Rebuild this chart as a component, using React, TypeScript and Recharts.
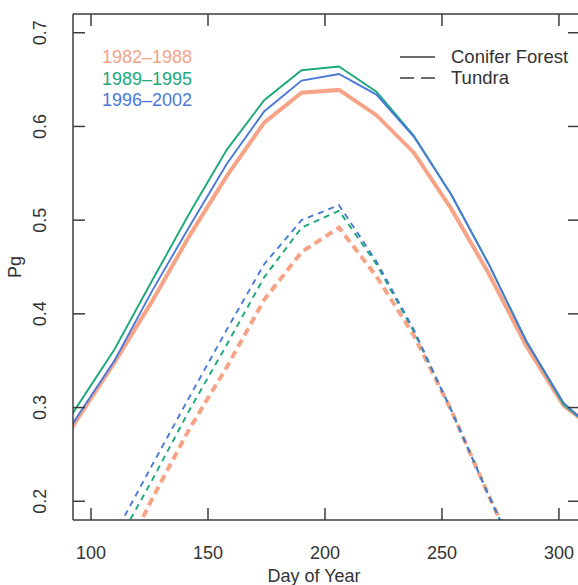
import React from 'react';
import { LineChart, Line, XAxis, YAxis } from 'recharts';

// 16-day composite days (first and last points run past the plot edges and get clipped)
const days = [78, 94, 110, 126, 142, 158, 174, 190, 206, 222, 238, 254, 270, 286, 302, 318];

// Conifer forest (solid)
const conifer8288 = [0.222, 0.287, 0.348, 0.413, 0.483, 0.547, 0.604, 0.636, 0.639, 0.612, 0.572, 0.512, 0.443, 0.366, 0.302, 0.272];
const conifer8995 = [0.238, 0.301, 0.362, 0.435, 0.507, 0.575, 0.628, 0.66, 0.664, 0.637, 0.59, 0.527, 0.453, 0.371, 0.303, 0.27];
const conifer9602 = [0.224, 0.29, 0.35, 0.424, 0.493, 0.56, 0.616, 0.649, 0.656, 0.634, 0.589, 0.527, 0.453, 0.371, 0.305, 0.269];

// Tundra (dashed)
const tundra8288 = [null, null, 0.121, 0.202, 0.277, 0.343, 0.415, 0.466, 0.492, 0.44, 0.377, 0.297, 0.206, 0.12, null, null];
const tundra8995 = [null, null, 0.15, 0.222, 0.297, 0.367, 0.439, 0.492, 0.51, 0.453, 0.381, 0.297, 0.206, 0.12, null, null];
const tundra9602 = [null, null, 0.164, 0.238, 0.311, 0.383, 0.453, 0.5, 0.516, 0.456, 0.383, 0.297, 0.206, 0.12, null, null];

const periods = ['1982–1988', '1989–1995', '1996–2002'];
const biomes = ['Conifer Forest', 'Tundra'];
const xTicks = [100, 150, 200, 250, 300];
const yTicks = [0.2, 0.3, 0.4, 0.5, 0.6, 0.7];

const data = days.map((d, i) => ({
  day: d,
  c82: conifer8288[i], c89: conifer8995[i], c96: conifer9602[i],
  t82: tundra8288[i], t89: tundra8995[i], t96: tundra9602[i],
}));

const FONT = '"Liberation Sans", Arial, Helvetica, sans-serif';
const AXIS = '#3c3c3c';
const TXT = '#333';
const ORANGE = '#F6A387';
const GREEN = '#1BA97B';
const BLUE = '#4A79D8';
const TICK = 12;
const FS = 18;

function BottomTick(props: any) {
  const { x, y, payload } = props;
  return (
    <g>
      <line x1={x} y1={y} x2={x} y2={y - TICK} stroke={AXIS} strokeWidth={1.5} />
      <text x={x} y={y + 33} textAnchor="middle" dominantBaseline="central" fontSize={FS} fill={TXT} fontFamily={FONT}>
        {payload.value}
      </text>
    </g>
  );
}

function TopTick(props: any) {
  const { x, y } = props;
  return <line x1={x} y1={y} x2={x} y2={y + TICK} stroke={AXIS} strokeWidth={1.5} />;
}

function LeftTick(props: any) {
  const { x, y, payload } = props;
  const tx = 40;
  return (
    <g>
      <line x1={x} y1={y} x2={x + TICK} y2={y} stroke={AXIS} strokeWidth={1.5} />
      <text x={tx} y={y} transform={`rotate(-90 ${tx} ${y})`} textAnchor="middle" dominantBaseline="central"
        fontSize={FS} fill={TXT} fontFamily={FONT}>
        {Number(payload.value).toFixed(1)}
      </text>
    </g>
  );
}

function RightTick(props: any) {
  const { x, y } = props;
  return <line x1={x} y1={y} x2={x - TICK} y2={y} stroke={AXIS} strokeWidth={1.5} />;
}

const axisLine = { stroke: AXIS, strokeWidth: 1.5 };
const xDomain: [number, number] = [92.3, 309];
const yDomain: [number, number] = [0.18, 0.72];

export default function App() {
  const legendColors = [ORANGE, GREEN, BLUE];
  return (
    <div style={{ position: 'absolute', left: 0, top: 0, width: 578, height: 585, overflow: 'hidden', background: '#fff', fontFamily: FONT }}>
      <LineChart width={590} height={585} data={data} margin={{ top: 0, right: 0, bottom: 0, left: 0 }}>
        <XAxis xAxisId="b" dataKey="day" type="number" domain={xDomain} allowDataOverflow ticks={xTicks}
          height={65} tickSize={0} tickMargin={0} tickLine={false} axisLine={axisLine} tick={<BottomTick />} interval={0} />
        <XAxis xAxisId="t" orientation="top" dataKey="day" type="number" domain={xDomain} allowDataOverflow ticks={xTicks}
          height={14} tickSize={0} tickMargin={0} tickLine={false} axisLine={axisLine} tick={<TopTick />} interval={0} />
        <YAxis yAxisId="l" type="number" domain={yDomain} allowDataOverflow ticks={yTicks}
          width={73} tickSize={0} tickMargin={0} tickLine={false} axisLine={axisLine} tick={<LeftTick />} interval={0} />
        <YAxis yAxisId="r" orientation="right" type="number" domain={yDomain} allowDataOverflow ticks={yTicks}
          width={10} tickSize={0} tickMargin={0} tickLine={false} axisLine={axisLine} tick={<RightTick />} interval={0} />

        <Line xAxisId="b" yAxisId="l" dataKey="c82" stroke={ORANGE} strokeWidth={4} dot={false} activeDot={false} isAnimationActive={false} />
        <Line xAxisId="b" yAxisId="l" dataKey="t82" stroke={ORANGE} strokeWidth={4} strokeDasharray="8 5" dot={false} activeDot={false} isAnimationActive={false} />
        <Line xAxisId="b" yAxisId="l" dataKey="c89" stroke={GREEN} strokeWidth={1.9} dot={false} activeDot={false} isAnimationActive={false} />
        <Line xAxisId="b" yAxisId="l" dataKey="t89" stroke={GREEN} strokeWidth={1.9} strokeDasharray="6 5" dot={false} activeDot={false} isAnimationActive={false} />
        <Line xAxisId="b" yAxisId="l" dataKey="c96" stroke={BLUE} strokeWidth={1.9} dot={false} activeDot={false} isAnimationActive={false} />
        <Line xAxisId="b" yAxisId="l" dataKey="t96" stroke={BLUE} strokeWidth={1.9} strokeDasharray="6 5" dot={false} activeDot={false} isAnimationActive={false} />
      </LineChart>

      {/* period legend, top left */}
      {periods.map((p, i) => (
        <div key={p} style={{ position: 'absolute', left: 102, top: 46 + i * 21.5, fontSize: FS, lineHeight: '22px', color: legendColors[i] }}>
          {p}
        </div>
      ))}

      {/* biome legend, top right */}
      <svg style={{ position: 'absolute', left: 0, top: 0 }} width={578} height={120}>
        <line x1={400} y1={57} x2={435} y2={57} stroke={AXIS} strokeWidth={1.5} />
        <line x1={400} y1={78} x2={435} y2={78} stroke={AXIS} strokeWidth={1.5} strokeDasharray="14 7" />
      </svg>
      {biomes.map((b, i) => (
        <div key={b} style={{ position: 'absolute', left: 451, top: 46 + i * 21, fontSize: FS + 0.5, lineHeight: '22px', color: TXT }}>
          {b}
        </div>
      ))}

      <div style={{ position: 'absolute', left: 314, top: 565, transform: 'translateX(-50%)', fontSize: FS, lineHeight: '22px', color: TXT, whiteSpace: 'nowrap' }}>
        Day of Year
      </div>
      <div style={{ position: 'absolute', left: 15, top: 267, transform: 'translate(-50%, -50%) rotate(-90deg)', fontSize: FS, lineHeight: '22px', color: TXT }}>
        Pg
      </div>
    </div>
  );
}
